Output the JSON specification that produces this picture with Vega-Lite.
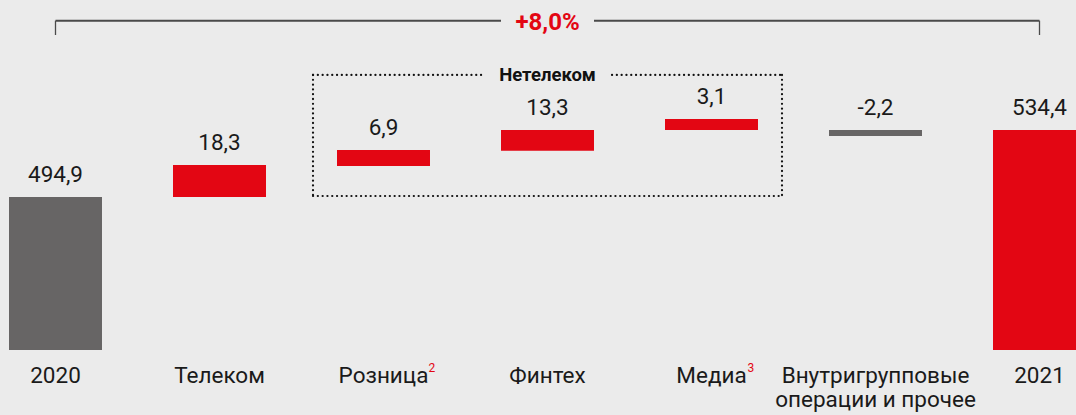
{
  "$schema": "https://vega.github.io/schema/vega-lite/v6.json",
  "autosize": {"type": "none"},
  "padding": {"left": 0, "top": 0, "right": 0, "bottom": 65},
  "width": 1076,
  "height": 350,
  "background": "#ebebeb",
  "config": {"view": {"stroke": null}, "font": "Roboto"},
  "datasets": {
    "bars": [
      {"cat": "2020", "lo": 404.9, "hi": 494.9, "label": "494,9", "kind": "gray"},
      {"cat": "Телеком", "lo": 494.9, "hi": 513.7, "label": "18,3", "kind": "red"},
      {"cat": "Розница", "lo": 513.1, "hi": 522.5, "label": "6,9", "kind": "red"},
      {"cat": "Финтех", "lo": 522.1, "hi": 534.3, "label": "13,3", "kind": "red"},
      {"cat": "Медиа", "lo": 534.3, "hi": 540.8, "label": "3,1", "kind": "red"},
      {"cat": "Внутригрупповые операции и прочее", "lo": 530.8, "hi": 534.3, "label": "-2,2", "kind": "gray"},
      {"cat": "2021", "lo": 404.9, "hi": 534.3, "label": "534,4", "kind": "red"}
    ],
    "bracket": [
      {"cat": "2020", "cat2": "Финтех", "side": "left", "y": 598.6, "y2": 590.2},
      {"cat": "Финтех", "cat2": "2021", "side": "right", "y": 598.6, "y2": 590.2}
    ],
    "total": [
      {"cat": "Финтех", "y": 598.6, "text": "+8,0%"}
    ],
    "box": [
      {"cat": "Розница", "cat2": "Медиа", "mid": "Финтех", "top": 566.7, "bottom": 495.5, "title": "Нетелеком"}
    ],
    "sup": [
      {"cat": "Розница", "y": 404.9, "text": "2"},
      {"cat": "Медиа", "y": 404.9, "text": "3"}
    ]
  },
  "encoding": {
    "x": {
      "field": "cat",
      "type": "nominal",
      "sort": null,
      "scale": {
        "domain": ["2020", "Телеком", "Розница", "Финтех", "Медиа", "Внутригрупповые операции и прочее", "2021"],
        "range": [-26.5, 1121.5],
        "paddingInner": 0.433,
        "paddingOuter": 0.2165
      },
      "axis": {
        "title": null,
        "domain": false,
        "ticks": false,
        "labelAngle": 0,
        "labelFont": "Roboto",
        "labelFontSize": 22.5,
        "labelColor": "#1a1a1a",
        "labelPadding": 14,
        "labelLimit": 400,
        "labelLineHeight": 24.5,
        "labelExpr": "datum.label == 'Внутригрупповые операции и прочее' ? ['Внутригрупповые', 'операции и прочее'] : datum.label"
      }
    }
  },
  "layer": [
    {
      "data": {"name": "bars"},
      "mark": {"type": "bar"},
      "encoding": {
        "y": {"field": "lo", "type": "quantitative", "scale": {"domain": [404.9, 610.8], "zero": false, "nice": false}, "axis": null},
        "y2": {"field": "hi"},
        "color": {"field": "kind", "type": "nominal", "scale": {"domain": ["gray", "red"], "range": ["#676565", "#e30613"]}, "legend": null}
      }
    },
    {
      "data": {"name": "bars"},
      "mark": {"type": "text", "baseline": "alphabetic", "dy": -15, "fontSize": 22.5, "font": "Roboto", "color": "#1a1a1a"},
      "encoding": {
        "y": {"field": "hi", "type": "quantitative"},
        "text": {"field": "label"}
      }
    },
    {
      "data": {"name": "bracket"},
      "transform": [{"filter": "datum.side == 'left'"}],
      "mark": {"type": "rule", "color": "#4a4a4a", "strokeWidth": 2, "x2Offset": -46.5},
      "encoding": {"y": {"field": "y", "type": "quantitative"}, "x2": {"field": "cat2"}}
    },
    {
      "data": {"name": "bracket"},
      "transform": [{"filter": "datum.side == 'right'"}],
      "mark": {"type": "rule", "color": "#4a4a4a", "strokeWidth": 2, "xOffset": 46.5},
      "encoding": {"y": {"field": "y", "type": "quantitative"}, "x2": {"field": "cat2"}}
    },
    {
      "data": {"name": "bracket"},
      "transform": [{"filter": "datum.side == 'left'"}],
      "mark": {"type": "rule", "color": "#4a4a4a", "strokeWidth": 1.3},
      "encoding": {"y": {"field": "y", "type": "quantitative"}, "y2": {"field": "y2"}}
    },
    {
      "data": {"name": "bracket"},
      "transform": [{"filter": "datum.side == 'right'"}],
      "mark": {"type": "rule", "color": "#4a4a4a", "strokeWidth": 1.3},
      "encoding": {"x": {"field": "cat2", "type": "nominal"}, "y": {"field": "y", "type": "quantitative"}, "y2": {"field": "y2"}}
    },
    {
      "data": {"name": "total"},
      "mark": {"type": "text", "baseline": "middle", "dy": 2, "fontSize": 24, "fontWeight": "bold", "font": "Roboto", "color": "#e30613"},
      "encoding": {"y": {"field": "y", "type": "quantitative"}, "text": {"field": "text"}}
    },
    {
      "data": {"name": "box"},
      "mark": {"type": "rule", "color": "#111111", "strokeWidth": 2.2, "strokeCap": "round", "strokeDash": [0.1, 4.7], "xOffset": -70.5},
      "encoding": {"y": {"field": "top", "type": "quantitative"}, "y2": {"field": "bottom"}}
    },
    {
      "data": {"name": "box"},
      "mark": {"type": "rule", "color": "#111111", "strokeWidth": 2.2, "strokeCap": "round", "strokeDash": [0.1, 4.7], "xOffset": 70.5},
      "encoding": {"x": {"field": "cat2", "type": "nominal"}, "y": {"field": "top", "type": "quantitative"}, "y2": {"field": "bottom"}}
    },
    {
      "data": {"name": "box"},
      "mark": {"type": "rule", "color": "#111111", "strokeWidth": 2.2, "strokeCap": "round", "strokeDash": [0.1, 4.7], "xOffset": -70.5, "x2Offset": 70.5},
      "encoding": {"y": {"field": "bottom", "type": "quantitative"}, "x2": {"field": "cat2"}}
    },
    {
      "data": {"name": "box"},
      "mark": {"type": "rule", "color": "#111111", "strokeWidth": 2.2, "strokeCap": "round", "strokeDash": [0.1, 4.7], "xOffset": -70.5, "x2Offset": -62.5},
      "encoding": {"y": {"field": "top", "type": "quantitative"}, "x2": {"field": "mid"}}
    },
    {
      "data": {"name": "box"},
      "mark": {"type": "rule", "color": "#111111", "strokeWidth": 2.2, "strokeCap": "round", "strokeDash": [0.1, 4.7], "xOffset": 64.5, "x2Offset": 70.5},
      "encoding": {"x": {"field": "mid", "type": "nominal"}, "y": {"field": "top", "type": "quantitative"}, "x2": {"field": "cat2"}}
    },
    {
      "data": {"name": "box"},
      "mark": {"type": "text", "baseline": "middle", "dy": 0, "fontSize": 18.5, "fontWeight": "bold", "font": "Roboto", "color": "#111111"},
      "encoding": {"x": {"field": "mid", "type": "nominal"}, "y": {"field": "top", "type": "quantitative"}, "text": {"field": "title"}}
    },
    {
      "data": {"name": "sup"},
      "transform": [{"filter": "datum.cat == 'Розница'"}],
      "mark": {"type": "text", "baseline": "top", "align": "left", "dx": 45, "dy": 13, "fontSize": 12, "font": "Roboto", "color": "#e30613"},
      "encoding": {"y": {"field": "y", "type": "quantitative"}, "text": {"field": "text"}}
    },
    {
      "data": {"name": "sup"},
      "transform": [{"filter": "datum.cat == 'Медиа'"}],
      "mark": {"type": "text", "baseline": "top", "align": "left", "dx": 36, "dy": 13, "fontSize": 12, "font": "Roboto", "color": "#e30613"},
      "encoding": {"y": {"field": "y", "type": "quantitative"}, "text": {"field": "text"}}
    }
  ]
}
